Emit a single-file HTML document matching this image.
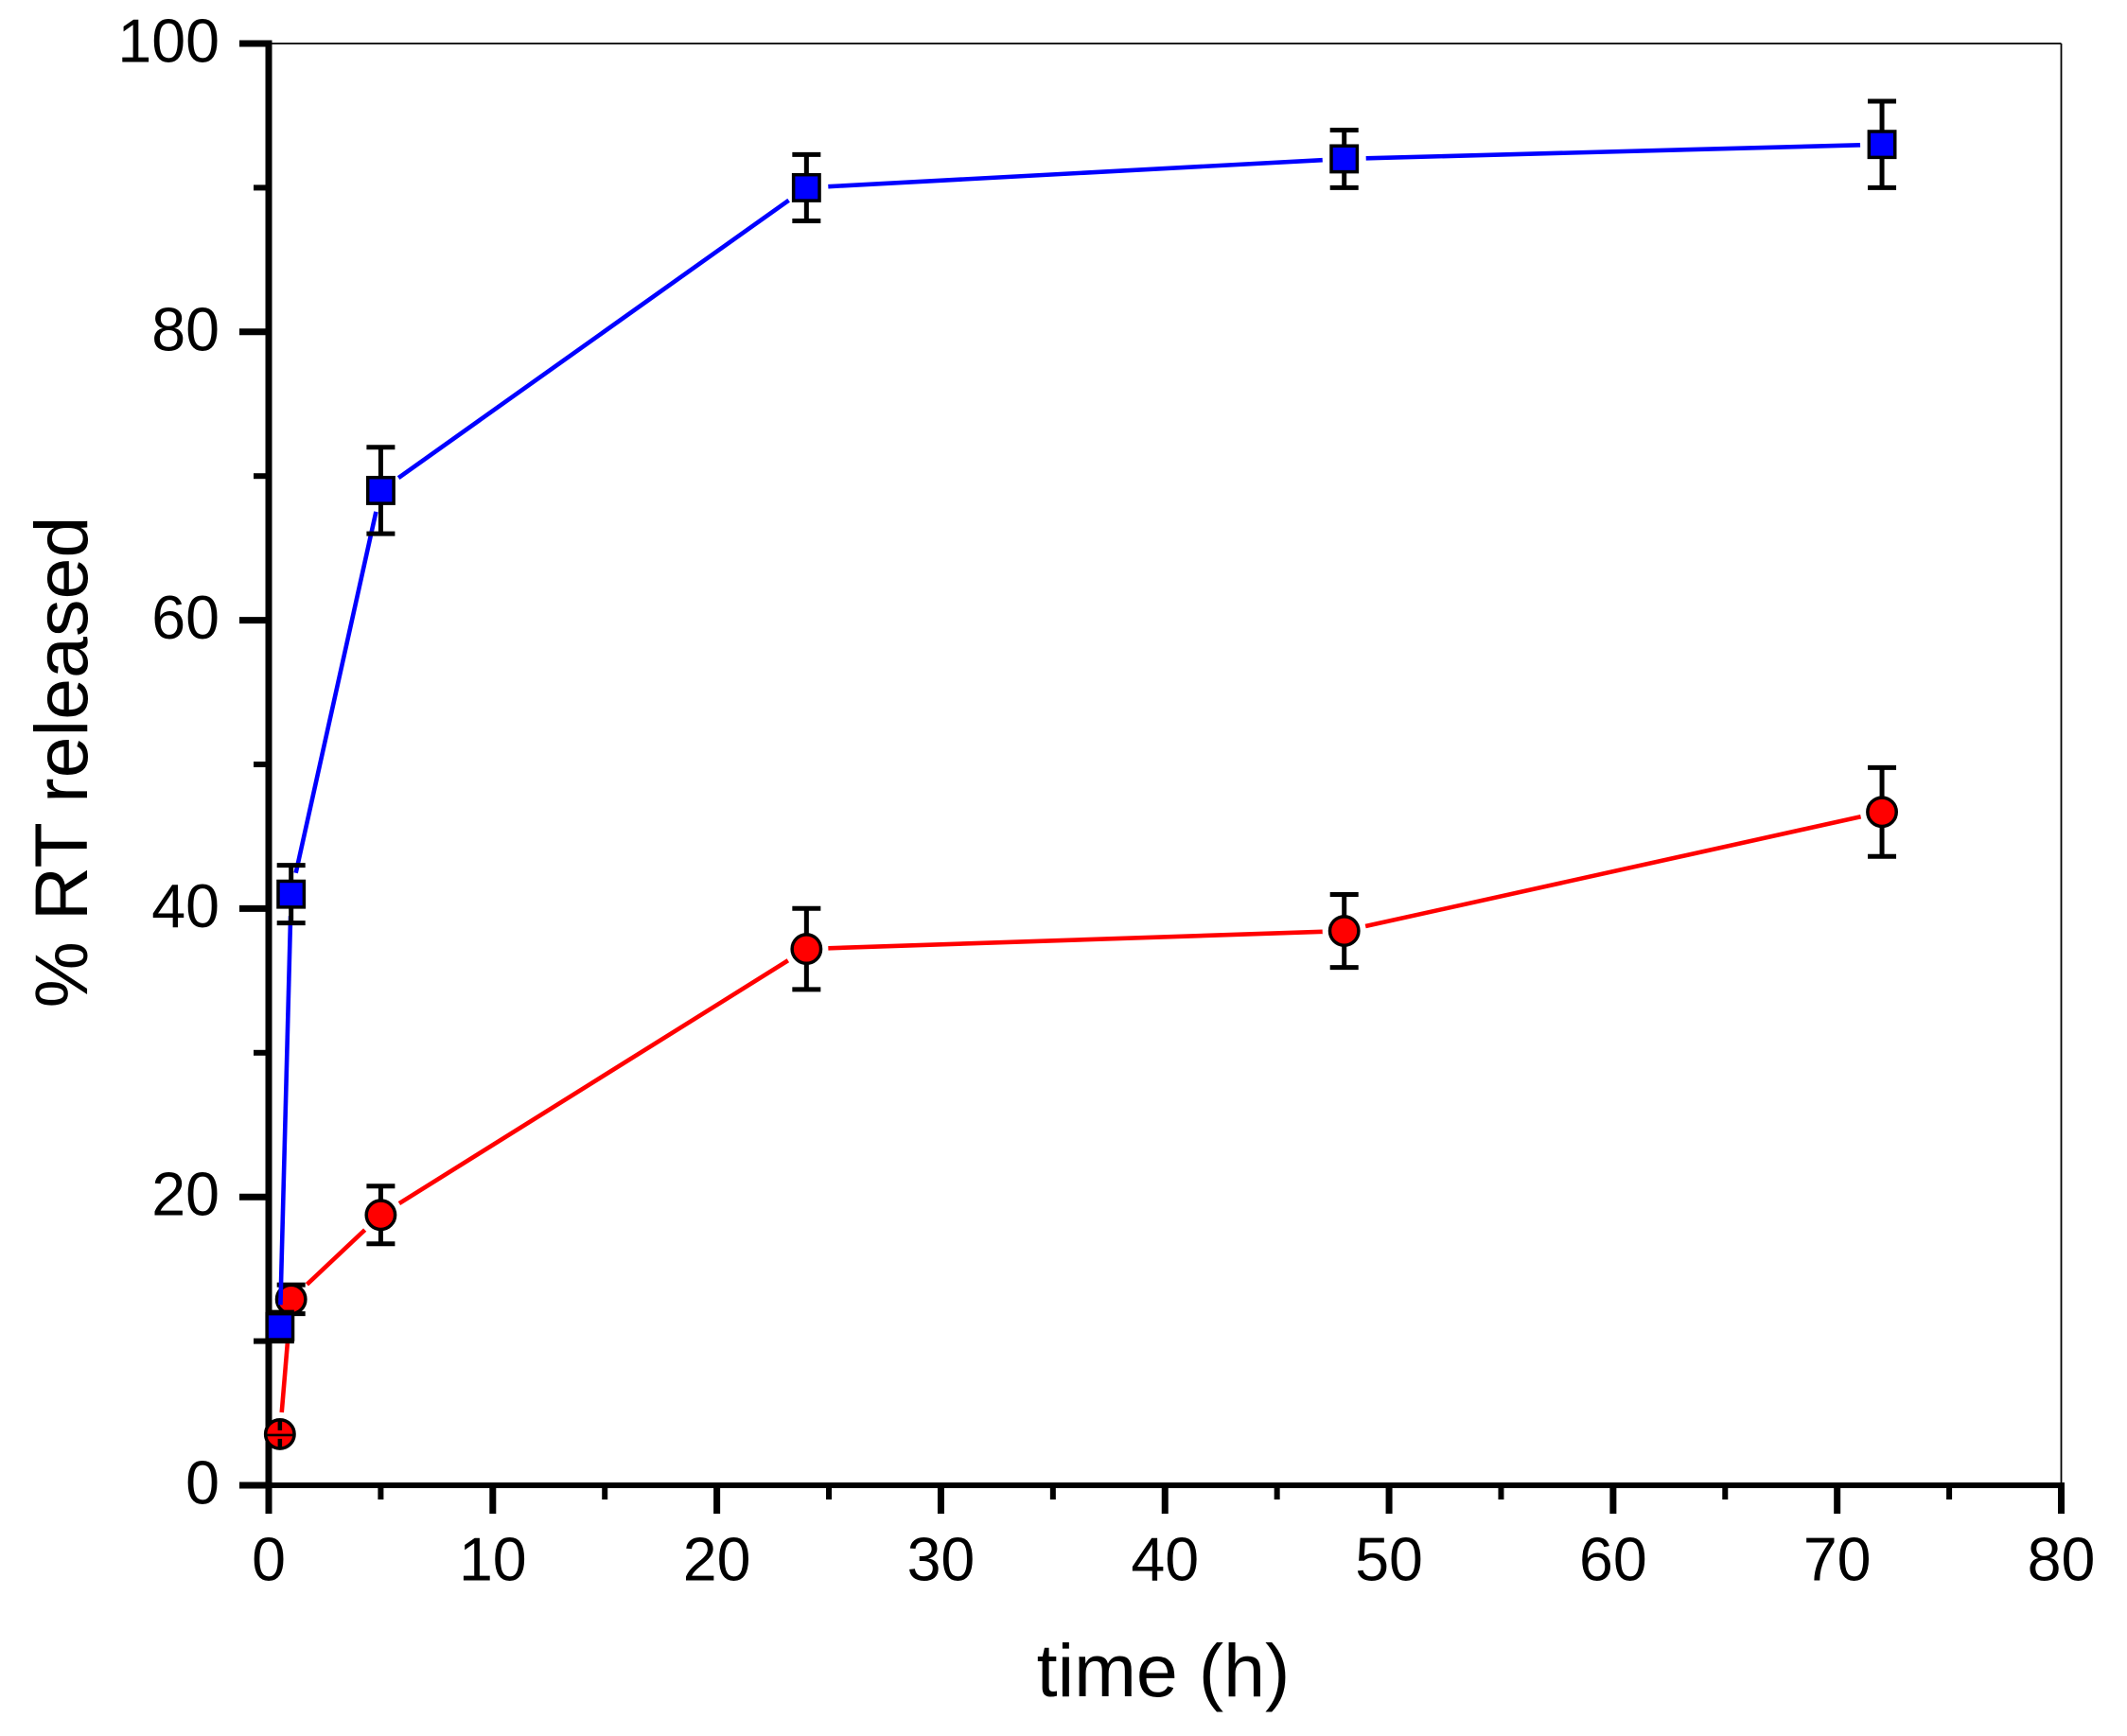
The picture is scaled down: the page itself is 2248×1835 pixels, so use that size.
<!DOCTYPE html>
<html lang="en">
<head>
<meta charset="utf-8">
<title>% RT released over time</title>
<style>
html,body{margin:0;padding:0;background:#fff;}
svg{display:block;font-family:"Liberation Sans",Arial,sans-serif;}
</style>
</head>
<body>
<svg id="chart" xmlns="http://www.w3.org/2000/svg" width="2248" height="1835" viewBox="0 0 2248 1835">
  <rect x="0" y="0" width="2248" height="1835" fill="#ffffff"/>
  <text x="1229.5" y="1793" font-size="79" text-anchor="middle" fill="#000">time (h)</text>
  <text transform="translate(92 805.5) rotate(-90)" font-size="79" text-anchor="middle" fill="#000">% RT released</text>
</svg>
<script>
const timePoints = [0.5, 1, 5, 24, 48, 72];
const blueValues = [11, 41, 69, 90, 92, 93];
const blueErrors = [1, 2, 3, 2.3, 2, 3];
const redValues = [3.55, 12.9, 18.75, 37.2, 38.45, 46.7];
const redErrors = [0.2, 1, 2, 2.81, 2.53, 3.08];
const xMajorTicks = [0, 10, 20, 30, 40, 50, 60, 70, 80];
const xMinorTicks = [5, 15, 25, 35, 45, 55, 65, 75];
const yMajorTicks = [0, 20, 40, 60, 80, 100];
const yMinorTicks = [10, 30, 50, 70, 90];

const svg = document.getElementById('chart');
const NS = 'http://www.w3.org/2000/svg';
const plot = { left: 284, right: 2178.5, top: 46, bottom: 1570 };
const xDomain = [0, 80];
const yDomain = [0, 100];
const LINE_GAP = 23;

function xScale(v) {
  return plot.left + (v - xDomain[0]) / (xDomain[1] - xDomain[0]) * (plot.right - plot.left);
}
function yScale(v) {
  return plot.bottom - (v - yDomain[0]) / (yDomain[1] - yDomain[0]) * (plot.bottom - plot.top);
}
function make(tag, attrs, parent) {
  const el = document.createElementNS(NS, tag);
  for (const k in attrs) el.setAttribute(k, attrs[k]);
  (parent || svg).appendChild(el);
  return el;
}
function strokeLine(x1, y1, x2, y2, width, color, parent) {
  return make('line', { x1: x1, y1: y1, x2: x2, y2: y2, stroke: color, 'stroke-width': width }, parent);
}

/* frame */
const frameTop = strokeLine(plot.left, plot.top, plot.right, plot.top, 1.8, '#000');


const frameRight = strokeLine(plot.right, plot.top, plot.right, plot.bottom, 1.8, '#000');



/* axes */
const yAxisLine = strokeLine(plot.left, plot.top - 3.5, plot.left, plot.bottom + 30, 7, '#000');


const xAxisLine = strokeLine(plot.left, plot.bottom, plot.right + 3.5, plot.bottom, 6, '#000');



xMajorTicks.forEach(function (t) {
  const tick = strokeLine(xScale(t), plot.bottom, xScale(t), plot.bottom + 30, 7, '#000');
  
  
  const label = make('text', { x: xScale(t), y: 1670.5, 'font-size': 64.5, 'text-anchor': 'middle', fill: '#000' });
  
  
  label.textContent = String(t);
});
xMinorTicks.forEach(function (t) {
  const tick = strokeLine(xScale(t), plot.bottom, xScale(t), plot.bottom + 15, 6, '#000');
  
  
});
yMajorTicks.forEach(function (t) {
  const tick = strokeLine(plot.left - 31, yScale(t), plot.left, yScale(t), 7, '#000');
  
  
  const label = make('text', { x: 232, y: yScale(t) + 19.5, 'font-size': 64.5, 'text-anchor': 'end', fill: '#000' });
  
  
  label.textContent = String(t);
});
yMinorTicks.forEach(function (t) {
  const tick = strokeLine(plot.left - 16, yScale(t), plot.left, yScale(t), 6, '#000');
  
  
});

/* connecting line segments stop short of each marker */
function drawSegments(values, color, width, group) {
  for (let i = 0; i < values.length - 1; i++) {
    const x1 = xScale(timePoints[i]), y1 = yScale(values[i]);
    const x2 = xScale(timePoints[i + 1]), y2 = yScale(values[i + 1]);
    const d = Math.hypot(x2 - x1, y2 - y1);
    if (d <= LINE_GAP * 2) continue;
    const ux = (x2 - x1) / d, uy = (y2 - y1) / d;
    const seg = strokeLine(x1 + ux * LINE_GAP, y1 + uy * LINE_GAP, x2 - ux * LINE_GAP, y2 - uy * LINE_GAP, width, color, group);
    
    
  }
}
function drawErrorBar(x, value, err, group) {
  const yTop = yScale(value + err), yBot = yScale(value - err);
  const stem = strokeLine(x, yTop, x, yBot, 5, '#000', group);
  
  
  const capTop = strokeLine(x - 15, yTop, x + 15, yTop, 5, '#000', group);
  
  
  const capBot = strokeLine(x - 15, yBot, x + 15, yBot, 5, '#000', group);
  
  
}

/* red series */
const redGroup = make('g', {});


drawSegments(redValues, '#ff0000', 4.6, redGroup);
timePoints.forEach(function (t, i) {
  const x = xScale(t), y = yScale(redValues[i]);
  if (redErrors[i] >= 0.5) drawErrorBar(x, redValues[i], redErrors[i], redGroup);
  const pt = make('circle', { cx: x, cy: y, r: 15.2, fill: '#ff0000', stroke: '#000', 'stroke-width': 3.5 }, redGroup);
  
  
  if (redErrors[i] < 0.5) {
    /* tiny error bar collapses into a crossed glyph on top of the marker */
    const hBar = strokeLine(x - 14, y + 1, x + 15, y + 1, 2.6, '#000', redGroup);
    
    
    const vUp = strokeLine(x, y - 15, x, y - 4, 4.5, '#000', redGroup);
    
    
    const vDown = strokeLine(x, y + 5, x, y + 16, 4.5, '#000', redGroup);
    
    
  }
});

/* blue series */
const blueGroup = make('g', {});


drawSegments(blueValues, '#0000ff', 4.6, blueGroup);
timePoints.forEach(function (t, i) {
  const x = xScale(t), y = yScale(blueValues[i]);
  drawErrorBar(x, blueValues[i], blueErrors[i], blueGroup);
  const pt = make('rect', { x: x - 13.7, y: y - 13.7, width: 27.4, height: 27.4, fill: '#0000ff', stroke: '#000', 'stroke-width': 3.5 }, blueGroup);
  
  
});
</script>
</body>
</html>
